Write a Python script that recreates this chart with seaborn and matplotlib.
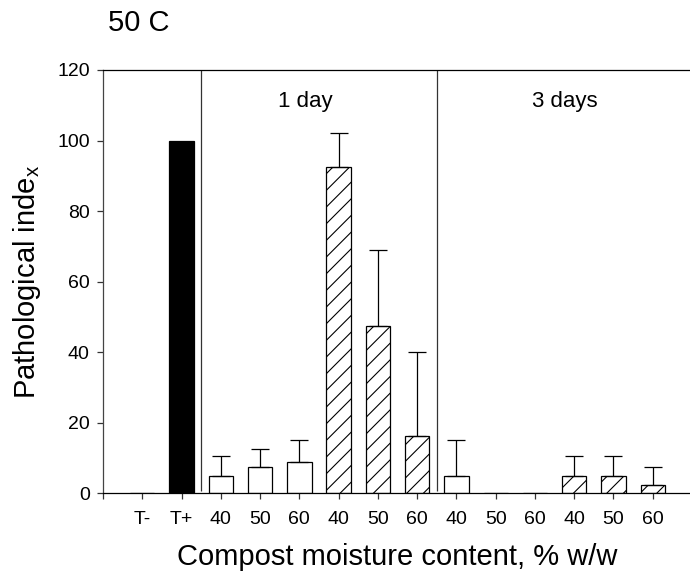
import matplotlib
matplotlib.use("Agg")
import matplotlib.pyplot as plt
import seaborn as sns
import pandas as pd

# Pathological index at 50 C by compost moisture content and exposure time
tick_labels = ["T-", "T+", "40", "50", "60", "40", "50", "60",
               "40", "50", "60", "40", "50", "60"]
controls = [0.0, 100.0]
day1_plain = [5.0, 7.5, 8.75]
day1_hatched = [92.5, 47.5, 16.25]
day3_plain = [5.0, 0.0, 0.0]
day3_hatched = [5.0, 5.0, 2.5]

controls_err = [0.0, 0.0]
day1_plain_err = [5.6, 5.0, 6.25]
day1_hatched_err = [9.5, 21.5, 23.75]
day3_plain_err = [10.0, 0.0, 0.0]
day3_hatched_err = [5.6, 5.6, 5.0]

values = controls + day1_plain + day1_hatched + day3_plain + day3_hatched
errors = controls_err + day1_plain_err + day1_hatched_err + day3_plain_err + day3_hatched_err
kinds = (["neg", "pos"] + ["plain"] * 3 + ["hatched"] * 3
         + ["plain"] * 3 + ["hatched"] * 3)

df = pd.DataFrame({"slot": list(range(len(values))), "value": values,
                   "err": errors, "kind": kinds})

sns.set_style("ticks")
plt.rcParams["font.family"] = ["Liberation Sans", "DejaVu Sans"]
plt.rcParams["mathtext.fontset"] = "custom"
plt.rcParams["mathtext.rm"] = "Liberation Sans"
plt.rcParams["hatch.linewidth"] = 0.8
plt.rcParams["text.color"] = "black"
plt.rcParams["axes.labelcolor"] = "black"
plt.rcParams["xtick.color"] = "black"
plt.rcParams["ytick.color"] = "black"

fig = plt.figure(figsize=(6.9, 5.78), dpi=100)
ax = fig.add_axes([0.1493, 0.1465, 0.8536, 0.7324])

colors = {i: ("black" if k == "pos" else "white") for i, k in zip(df["slot"], df["kind"])}
sns.barplot(data=df, x="slot", y="value", hue="slot", palette=colors,
            dodge=False, width=0.62, edgecolor="black", linewidth=0.9,
            legend=False, errorbar=None, ax=ax)

# hatch the second set of bars in each exposure block
for patch in ax.patches:
    cx = patch.get_x() + patch.get_width() / 2
    idx = int(round(cx))
    if 0 <= idx < len(kinds) and kinds[idx] == "hatched":
        patch.set_hatch("//")

# upper error bars only
has_err = df[df["err"] > 0]
ax.errorbar(has_err["slot"], has_err["value"],
            yerr=[[0] * len(has_err), has_err["err"]],
            fmt="none", ecolor="black", elinewidth=0.9, capsize=6.5,
            capthick=0.9, zorder=3)

# block separators
ax.vlines([1.5, 7.5], 0.8, 120, colors="#333333", linewidth=0.9)

ax.text(3.46, 111, "1 day", fontsize=16, ha="left", va="center")
ax.text(9.92, 111, "3 days", fontsize=16, ha="left", va="center")

ax.set_xlim(-1, 14)
ax.set_ylim(0, 120)
ax.set_xticks(list(range(-1, len(tick_labels))))
ax.set_xticklabels([""] + tick_labels)
ax.set_yticks([0, 20, 40, 60, 80, 100, 120])
ax.tick_params(axis="both", direction="out", length=4.5, width=0.9,
               color="#333333", labelcolor="black", labelsize=14)
ax.tick_params(axis="x", pad=8)
ax.tick_params(axis="y", pad=5)

ax.spines["right"].set_visible(False)
ax.spines["top"].set_visible(True)
for s in ["left", "bottom", "top"]:
    ax.spines[s].set_linewidth(0.9)
ax.spines["left"].set_color("#444444")
ax.spines["bottom"].set_color("black")
ax.spines["top"].set_color("black")

ax.set_xlabel("Compost moisture content, % w/w", fontsize=21, labelpad=11)
ax.set_ylabel(r"Pathological inde$_\mathregular{x}$", fontsize=21, labelpad=10)

fig.text(108 / 690, 1 - 23 / 578, "50 C", fontsize=21, ha="left", va="center")

fig.savefig("out.png", dpi=100)
